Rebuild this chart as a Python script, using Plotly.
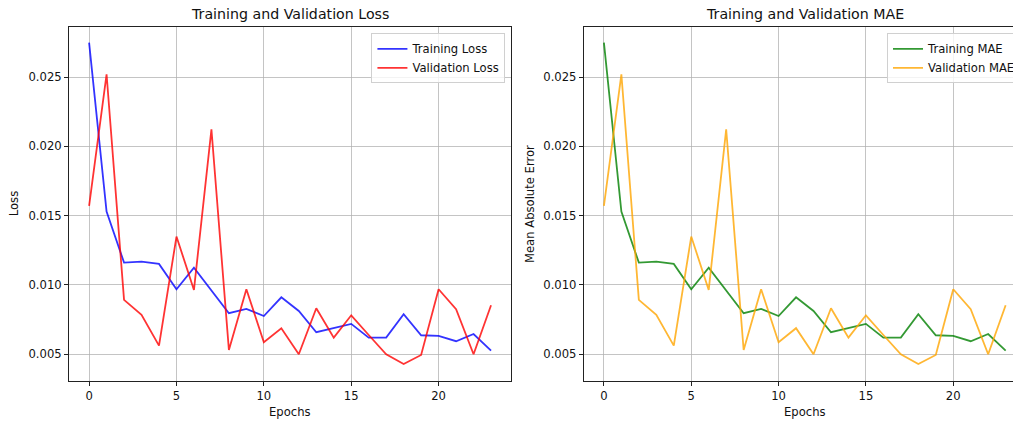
import plotly.graph_objects as go

epochs = list(range(24))
train_loss = [0.02748, 0.01529, 0.01161, 0.01168, 0.01152, 0.00969, 0.01125, 0.00959,
              0.00796, 0.00827, 0.00776, 0.00911, 0.00812, 0.00659, 0.00688, 0.00719,
              0.00620, 0.00620, 0.00789, 0.00637, 0.00632, 0.00594, 0.00646, 0.00526]
val_loss = [0.01570, 0.02520, 0.00892, 0.00784, 0.00562, 0.01349, 0.00964, 0.02123,
            0.00531, 0.00969, 0.00587, 0.00688, 0.00500, 0.00832, 0.00620, 0.00781,
            0.00639, 0.00500, 0.00430, 0.00495, 0.00969, 0.00825, 0.00500, 0.00854]
train_mae = list(train_loss)
val_mae = list(val_loss)

y_ticks = [0.005, 0.010, 0.015, 0.020, 0.025]
y_ticktext = ["0.005", "0.010", "0.015", "0.020", "0.025"]
x_ticks = [0, 5, 10, 15, 20]

FONT = "DejaVu Sans"
fs = 11.6

fig = go.Figure()
fig.add_trace(go.Scatter(x=epochs, y=train_loss, mode="lines", name="Training Loss",
                         line=dict(color="rgba(0,0,255,0.8)", width=1.8), xaxis="x", yaxis="y", legend="legend"))
fig.add_trace(go.Scatter(x=epochs, y=val_loss, mode="lines", name="Validation Loss",
                         line=dict(color="rgba(255,0,0,0.8)", width=1.8), xaxis="x", yaxis="y", legend="legend"))
fig.add_trace(go.Scatter(x=epochs, y=train_mae, mode="lines", name="Training MAE",
                         line=dict(color="rgba(0,128,0,0.8)", width=1.8), xaxis="x2", yaxis="y2", legend="legend2"))
fig.add_trace(go.Scatter(x=epochs, y=val_mae, mode="lines", name="Validation MAE",
                         line=dict(color="rgba(255,165,0,0.8)", width=1.8), xaxis="x2", yaxis="y2", legend="legend2"))

# page body has an 8px margin; figure is sized so it fills the window exactly
OFF = 8
W, H = 1021 - OFF, 421 - OFF
L, R, T, B = 69 - OFF, 0, 27 - OFF, 40
pw = W - L - R
ph = H - T - B

def px_x(px):
    return (px - OFF - L) / pw

def px_y(py):
    return (H - B - (py - OFF)) / ph

grid = "rgba(176,176,176,0.75)"
axis_common = dict(showgrid=True, gridcolor=grid, gridwidth=1, zeroline=False,
                   showline=True, linecolor="#222", linewidth=1,
                   ticks="outside", ticklen=4, tickwidth=1, tickcolor="#222",
                   tickfont=dict(family=FONT, size=fs, color="#111"))

fig.update_layout(
    width=W, height=H,
    margin=dict(l=L, r=R, t=T, b=B),
    paper_bgcolor="white", plot_bgcolor="white",
    font=dict(family=FONT, size=fs, color="#111"),
    xaxis=dict(domain=[0, px_x(513)], range=[-1.15, 24.15], tickvals=x_ticks, mirror=True, anchor="y", **axis_common),
    yaxis=dict(domain=[0, 1], range=[0.00307, 0.02861], tickvals=y_ticks, ticktext=y_ticktext, mirror=True, anchor="x", **axis_common),
    xaxis2=dict(domain=[px_x(586), 1], range=[-1.15, 23.65], tickvals=x_ticks, mirror=True, anchor="y2", **axis_common),
    yaxis2=dict(domain=[0, 1], range=[0.00307, 0.02861], tickvals=y_ticks, ticktext=y_ticktext, mirror=False, anchor="x2", **axis_common),
    legend=dict(x=px_x(372.7), y=px_y(33.3), xanchor="left", yanchor="top",
                bgcolor="rgba(255,255,255,0.8)", bordercolor="#d0d0d0", borderwidth=1,
                font=dict(family=FONT, size=fs, color="#111")),
    legend2=dict(x=px_x(890.7), y=px_y(33.3), xanchor="left", yanchor="top",
                 bgcolor="rgba(255,255,255,0.8)", bordercolor="#d0d0d0", borderwidth=1,
                 font=dict(family=FONT, size=fs, color="#111")),
    showlegend=True,
)

annotations = [
    dict(text="Training and Validation Loss", x=px_x(291), y=1, xref="paper", yref="paper",
         xanchor="center", yanchor="bottom", yshift=3, showarrow=False,
         font=dict(family=FONT, size=14.2, color="#111")),
    dict(text="Training and Validation MAE", x=px_x(808), y=1, xref="paper", yref="paper",
         xanchor="center", yanchor="bottom", yshift=3, showarrow=False,
         font=dict(family=FONT, size=14.2, color="#111")),
    dict(text="Epochs", x=px_x(291), y=px_y(412), xref="paper", yref="paper",
         xanchor="center", yanchor="middle", showarrow=False, font=dict(family=FONT, size=fs, color="#111")),
    dict(text="Epochs", x=px_x(808), y=px_y(412), xref="paper", yref="paper",
         xanchor="center", yanchor="middle", showarrow=False, font=dict(family=FONT, size=fs, color="#111")),
    dict(text="Loss", x=px_x(14), y=px_y(204), xref="paper", yref="paper", textangle=-90,
         xanchor="center", yanchor="middle", showarrow=False, font=dict(family=FONT, size=fs, color="#111")),
    dict(text="Mean Absolute Error", x=px_x(532), y=px_y(204), xref="paper", yref="paper", textangle=-90,
         xanchor="center", yanchor="middle", showarrow=False, font=dict(family=FONT, size=fs, color="#111")),
]
fig.update_layout(annotations=annotations)

fig.write_html("out.html", config={"displayModeBar": False})
